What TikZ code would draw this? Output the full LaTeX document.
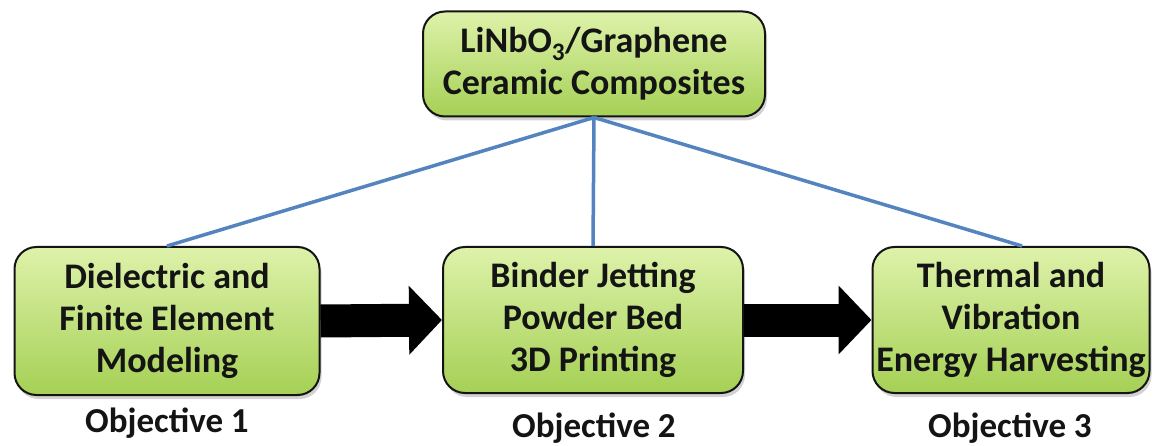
\documentclass[tikz,border=0pt]{standalone}
\usepackage{fontspec}
\setmainfont{Carlito}
\usetikzlibrary{arrows.meta,shadows,backgrounds}
\definecolor{boxtop}{RGB}{222,242,170}
\definecolor{boxbot}{RGB}{165,208,85}
\definecolor{linkblue}{RGB}{84,132,192}
\definecolor{inkdark}{RGB}{20,20,20}
\tikzset{
  goalbox/.style={draw=inkdark, line width=2pt, rounded corners=22pt,
    top color=boxtop, bottom color=boxbot, align=center,
    font=\fontsize{36pt}{42pt}\selectfont\bfseries, text=inkdark,
    inner sep=0pt,
    drop shadow={opacity=0.35, shadow xshift=2pt, shadow yshift=-4pt}},
  caption/.style={font=\fontsize{35pt}{40pt}\selectfont\bfseries, text=inkdark,
    inner sep=0pt},
  link/.style={draw=linkblue, line width=3.5pt},
  flow/.style={line width=33pt, draw=black,
    -{Triangle[width=67pt,length=33pt]}},
}
\begin{document}
\begin{tikzpicture}[x=1pt,y=-1pt]
  \useasboundingbox (0,0) rectangle (1158,446);
  \begin{scope}[on background layer]
    \fill[white] (0,0) rectangle (1158,446);
  \end{scope}
  % top material box
  \node[goalbox, minimum width=342pt, minimum height=105pt] (top) at (594,64)
    {LiNbO\textsubscript{3}/Graphene\\Ceramic Composites};
  % three objective boxes
  \node[goalbox, minimum width=305pt, minimum height=148pt] (left) at (167,321)
    {Dielectric and\\Finite Element\\Modeling};
  \node[goalbox, minimum width=300pt, minimum height=146pt] (mid) at (593,320)
    {Binder Jetting\\Powder Bed\\3D Printing};
  \node[goalbox, minimum width=277pt, minimum height=146pt] (right) at (1011,320)
    {Thermal and\\Vibration\\Energy Harvesting};
  % captions
  \node[caption] (c1) at (167,423) {Objective 1};
  \node[caption] (c2) at (594,428) {Objective 2};
  \node[caption] (c3) at (1010,428) {Objective 3};
  % blue links from the material box
  \draw[link] (top.south) -- (left.north);
  \draw[link] (top.south) -- (mid.north);
  \draw[link] (top.south) -- ([xshift=11pt]right.north);
  % process flow arrows
  \draw[flow] (left.east) -- (mid.west);
  \draw[flow] (mid.east) -- (right.west);
\end{tikzpicture}
\end{document}
